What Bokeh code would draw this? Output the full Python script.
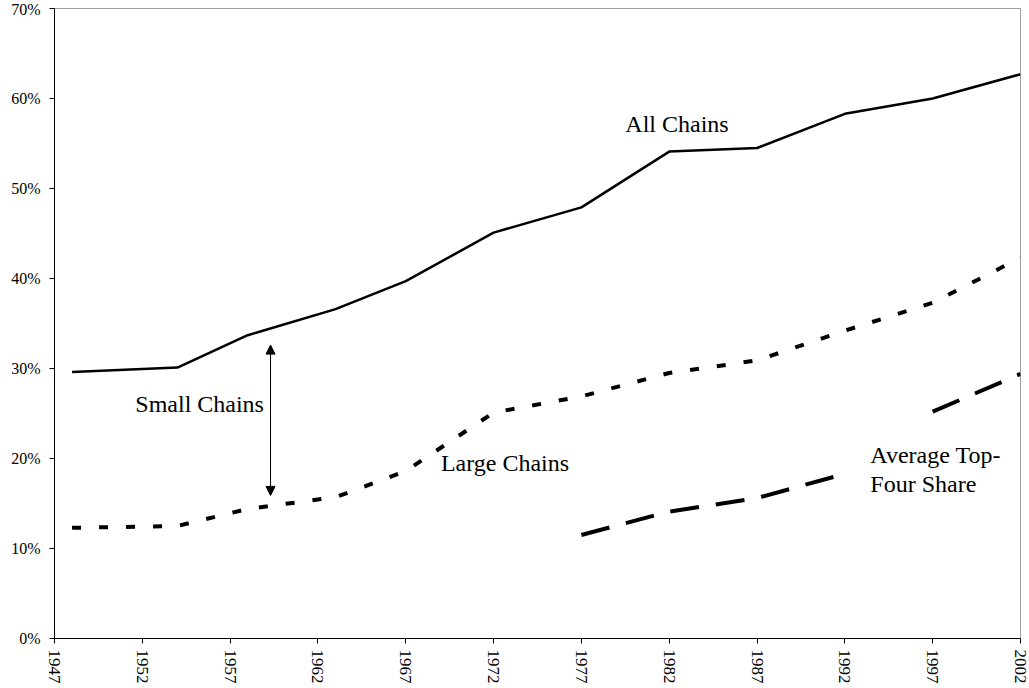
from bokeh.plotting import figure
from bokeh.models import (Range1d, FixedTicker, PrintfTickFormatter, Label,
                          Arrow, NormalHead)
from bokeh.embed import file_html
from bokeh.resources import INLINE

# ---- data (percent) ----
years = [1948, 1954, 1958, 1963, 1967, 1972, 1977, 1982, 1987, 1992, 1997, 2002]
all_chains = [29.6, 30.1, 33.7, 36.6, 39.7, 45.1, 47.9, 54.1, 54.5, 58.3, 60.0, 62.7]
large_chains = [12.3, 12.5, 14.4, 15.7, 18.6, 25.1, 26.9, 29.5, 30.9, 34.2, 37.3, 42.3]

# Average top-four share: two separate series (break between 1992 and 1997)
top4_years_a = [1977, 1982, 1987, 1992]
top4_a = [11.5, 14.1, 15.6, 18.3]
top4_years_b = [1997, 2002]
top4_b = [25.2, 29.4]

x_ticks = [1947, 1952, 1957, 1962, 1967, 1972, 1977, 1982, 1987, 1992, 1997, 2002]
y_ticks = [0, 10, 20, 30, 40, 50, 60, 70]

FONT = "'Liberation Serif', 'Times New Roman', serif"

p = figure(width=1029, height=688, output_backend="svg", toolbar_location=None,
           x_range=Range1d(1947, 2002), y_range=Range1d(0, 70),
           min_border_left=54, min_border_right=9, min_border_top=8,
           min_border_bottom=50)
p.background_fill_color = "white"
p.border_fill_color = "white"
p.outline_line_color = "#a0a0a0"
p.outline_line_width = 1
p.xgrid.visible = False
p.ygrid.visible = False

for ax in (p.xaxis[0], p.yaxis[0]):
    ax.axis_line_color = "black"
    ax.axis_line_width = 1
    ax.major_tick_line_color = "black"
    ax.major_tick_in = 0
    ax.major_tick_out = 5
    ax.minor_tick_line_color = None
    ax.major_label_text_font = FONT
    ax.major_label_text_font_size = "16px"
    ax.major_label_text_color = "black"

p.xaxis.ticker = FixedTicker(ticks=x_ticks)
p.xaxis.major_label_orientation = "vertical"
p.xaxis.major_label_standoff = 6
p.xaxis.major_label_text_font_size = "17px"
p.yaxis.ticker = FixedTicker(ticks=y_ticks)
p.yaxis.formatter = PrintfTickFormatter(format="%d%%")
p.yaxis.major_label_standoff = 9

# ---- lines ----
p.line(years, all_chains, line_color="black", line_width=2.5)
p.line(years, large_chains, line_color="black", line_width=4, line_dash="9 18")
p.multi_line([top4_years_a, top4_years_b], [top4_a, top4_b], line_color="black",
             line_width=4, line_dash="29 17")

# ---- arrow ----
p.add_layout(Arrow(x_start=1959.3, y_start=15.9, x_end=1959.3, y_end=32.6,
                   line_color="black", line_width=1,
                   start=NormalHead(size=9, fill_color="black", line_color="black"),
                   end=NormalHead(size=9, fill_color="black", line_color="black")))

# ---- text annotations ----
labels = [
    ("All Chains", 1979.5, 57.2),
    ("Small Chains", 1951.6, 26.1),
    ("Large Chains", 1969.0, 19.5),
    ("Average Top-", 1993.45, 20.4),
    ("Four Share", 1993.45, 17.2),
]
for txt, lx, ly in labels:
    p.add_layout(Label(x=lx, y=ly, text=txt, text_font=FONT, text_font_size="24px",
                       text_color="black", text_baseline="alphabetic",
                       text_align="left"))

open("out.html", "w").write(file_html(p, INLINE))
